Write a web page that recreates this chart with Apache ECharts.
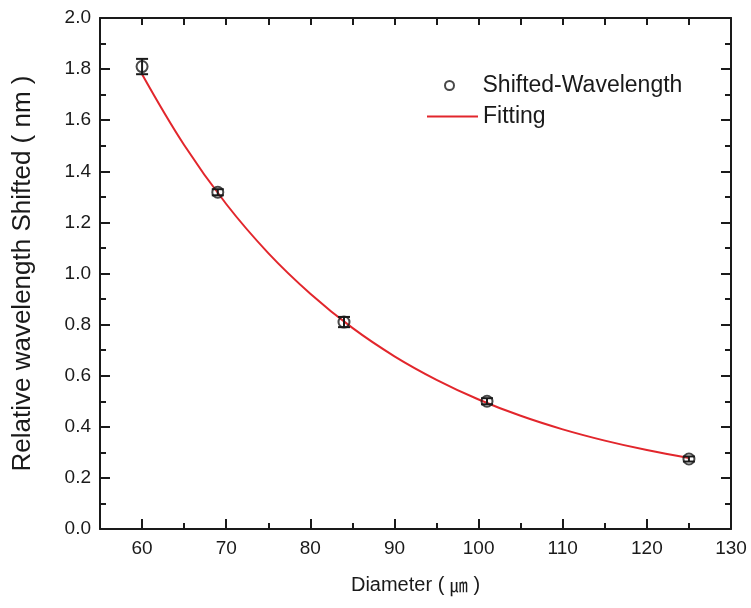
<!DOCTYPE html>
<html>
<head>
<meta charset="utf-8">
<script src="https://cdn.jsdelivr.net/npm/echarts@6/dist/echarts.min.js"></script>
<style>
html, body { margin: 0; padding: 0; background: #fff; }
#chart { width: 751px; height: 608px; }
</style>
</head>
<body>
<div id="chart"></div>
<script>
// Measured wavelength shift versus fibre diameter
const diameters = [60, 69, 84, 101, 125];
const shifts = [1.81, 1.318, 0.81, 0.50, 0.274];
const shiftErrors = [0.03, 0.012, 0.02, 0.012, 0.01];

// Exponential-decay fitting curve, sampled along the diameter axis
const fitX = [60, 65, 70, 75, 80, 85, 90, 95, 100, 105, 110, 115, 120, 125];
const fitY = [1.78, 1.503, 1.272, 1.08, 0.921, 0.787, 0.676, 0.584, 0.507, 0.443, 0.39, 0.346, 0.309, 0.278];

const xTicks = [60, 70, 80, 90, 100, 110, 120, 130];
const yTicks = [0.0, 0.2, 0.4, 0.6, 0.8, 1.0, 1.2, 1.4, 1.6, 1.8, 2.0];

const FONT = '"Liberation Sans", Arial, sans-serif';
const CJK = '"Noto Sans CJK JP", "Noto Sans CJK SC", sans-serif';
const INK = '#1a1a1a';
const RED = '#e2262c';

const pointData = diameters.map((d, i) => [d, shifts[i]]);
const errorData = diameters.map((d, i) => [d, shifts[i] - shiftErrors[i], shifts[i] + shiftErrors[i]]);
const fitData = fitX.map((x, i) => [x, fitY[i]]);
// minor x ticks sit halfway between the labelled ones
const xMinor = xTicks.slice(0, -1).map(v => v + 5);

const lineStyle = { color: INK, width: 2 };

const chart = echarts.init(document.getElementById('chart'));
chart.setOption({
  animation: false,
  backgroundColor: '#fff',
  grid: { left: 100, right: 20, top: 18, bottom: 79, containLabel: false },
  xAxis: [
    {
      type: 'value', position: 'bottom', min: 55, max: 130,
      name: 'Diameter ( {u|\u339B} )', nameLocation: 'middle', nameGap: 46,
      nameTextStyle: {
        fontFamily: FONT, fontSize: 20, color: INK,
        rich: { u: { fontFamily: CJK, fontSize: 18, color: INK } }
      },
      axisLine: { show: true, onZero: false, lineStyle },
      axisTick: { show: true, inside: true, length: 10, customValues: xTicks, lineStyle },
      axisLabel: { fontFamily: FONT, fontSize: 19, color: INK, margin: 10, customValues: xTicks },
      splitLine: { show: false }
    },
    {
      type: 'value', position: 'bottom', min: 55, max: 130,
      axisLine: { show: false, onZero: false },
      axisTick: { show: true, inside: true, length: 6, customValues: xMinor, lineStyle },
      axisLabel: { show: false },
      splitLine: { show: false }
    },
    {
      type: 'value', position: 'top', min: 55, max: 130, interval: 5,
      axisLine: { show: true, onZero: false, lineStyle },
      axisTick: { show: true, inside: true, length: 7, lineStyle },
      axisLabel: { show: false },
      splitLine: { show: false }
    }
  ],
  yAxis: [
    {
      type: 'value', position: 'left', min: 0, max: 2.0, interval: 0.2,
      name: 'Relative wavelength Shifted ( nm )', nameLocation: 'middle', nameGap: 64,
      nameTextStyle: { fontFamily: FONT, fontSize: 26, color: INK },
      axisLine: { show: true, onZero: false, lineStyle },
      axisTick: { show: true, inside: true, length: 10, lineStyle },
      minorTick: { show: true, splitNumber: 2, length: 6, lineStyle },
      axisLabel: { fontFamily: FONT, fontSize: 19, color: INK, margin: 9, formatter: v => v.toFixed(1) },
      splitLine: { show: false }
    },
    {
      type: 'value', position: 'right', min: 0, max: 2.0, interval: 0.2,
      axisLine: { show: true, onZero: false, lineStyle },
      axisTick: { show: true, inside: true, length: 10, lineStyle },
      minorTick: { show: true, splitNumber: 2, length: 6, lineStyle },
      axisLabel: { show: false },
      splitLine: { show: false }
    }
  ],
  legend: [
    {
      data: [{
        name: 'Shifted-Wavelength', icon: 'circle',
        itemStyle: { color: '#fff', borderColor: INK, borderWidth: 2 }
      }],
      left: 439, top: 69, itemWidth: 46, itemHeight: 9,
      textStyle: { fontFamily: FONT, fontSize: 23, color: INK, padding: [0, 0, 0, 5] },
      selectedMode: false
    },
    {
      data: [{ name: 'Fitting', itemStyle: { opacity: 0 } }],
      left: 421, top: 100, itemWidth: 51, itemHeight: 14,
      lineStyle: { color: RED, width: 2 },
      textStyle: { fontFamily: FONT, fontSize: 23, color: INK },
      selectedMode: false
    }
  ],
  series: [
    {
      name: 'Fitting', type: 'line', data: fitData, smooth: 0.4,
      symbol: 'none', showSymbol: false,
      lineStyle: { color: RED, width: 2 },
      z: 2
    },
    {
      name: 'errorbars', type: 'custom', data: errorData,
      renderItem: function (params, api) {
        const x = api.value(0);
        const lo = api.coord([x, api.value(1)]);
        const hi = api.coord([x, api.value(2)]);
        const half = 6;
        const style = { stroke: INK, lineWidth: 2 };
        return {
          type: 'group',
          children: [
            { type: 'line', shape: { x1: lo[0], y1: lo[1], x2: hi[0], y2: hi[1] }, style },
            { type: 'line', shape: { x1: lo[0] - half, y1: lo[1], x2: lo[0] + half, y2: lo[1] }, style },
            { type: 'line', shape: { x1: hi[0] - half, y1: hi[1], x2: hi[0] + half, y2: hi[1] }, style }
          ]
        };
      },
      encode: { x: 0, y: [1, 2] },
      z: 3
    },
    {
      name: 'Shifted-Wavelength', type: 'scatter', data: pointData,
      symbol: 'circle', symbolSize: 11,
      itemStyle: { color: 'rgba(255,255,255,0)', borderColor: INK, borderWidth: 2 },
      z: 4
    }
  ]
});
</script>
</body>
</html>
